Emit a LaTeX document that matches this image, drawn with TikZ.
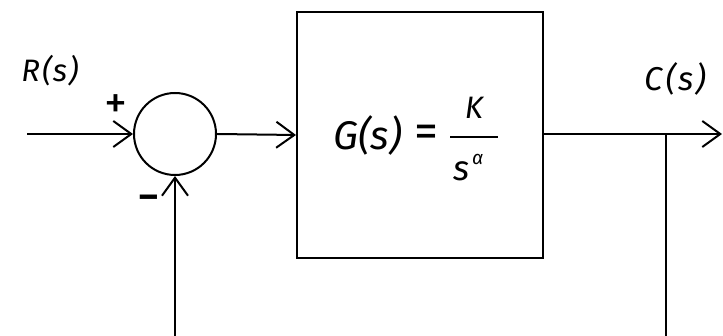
\documentclass[tikz,border=0pt]{standalone}
\usepackage{fontspec}
\setmainfont{Fira Sans}
\usetikzlibrary{arrows.meta}
\newcommand{\fsz}[1]{\fontsize{#1}{#1}\selectfont}
\begin{document}
\begin{tikzpicture}[x=1pt,y=-1pt,
  wire/.style={line width=2pt},
  arr/.style={wire,-{Straight Barb[length=18pt,width=26pt,line width=2pt]}},
  txt/.style={inner sep=0pt,outer sep=0pt}]
\useasboundingbox (0,0) rectangle (723,336);
\node[draw,line width=2pt,circle,minimum size=82pt,inner sep=0pt] (sum) at (175,134) {};
\node[draw,line width=2pt,minimum width=246pt,minimum height=246pt,inner sep=0pt] (G) at (420,135) {};
\coordinate (in) at (27,134);
\coordinate (out) at (722,134);
\coordinate (br) at (666,134);
\coordinate (brb) at (666,336);
\coordinate (fbb) at (175,336);
\draw[arr] (in) -- (sum.west);
\draw[arr] (sum.east) -- (G.west);
\draw[arr] (G.east |- br) -- (out);
\draw[wire] (br) -- (brb);
\draw[arr] (fbb) -- (sum.south);
\node[txt] (R) at (50,71) {\fsz{31}\itshape R\kern2pt(\kern1pt s\kern1.5pt)};
\node[txt] (C) at (675,79) {\fsz{33}\itshape C\kern3pt(\kern2pt s\kern2pt)};
\node[txt] (plus) at (116,107) {\fsz{46}+};
\node[txt] (minus) at (149,201.5) {\fsz{36}\bfseries \textendash};
% transfer function
\node[txt,anchor=base west] (Gs) at (333,150) {\fsz{40}\itshape G(s)};
\node[txt] (eq) at (426,136) {\fsz{48}=};
\coordinate (fa) at (450,137);
\coordinate (fb) at (498,137);
\draw[line width=2pt] (fa) -- (fb);
\node[txt,anchor=base] (K) at (474,119) {\fsz{31}\itshape K};
\node[txt,anchor=base] (s) at (462,181) {\fsz{35}\itshape s};
\node[txt,anchor=base west] (al) at (472,165) {\fsz{19}\itshape α};
\end{tikzpicture}
\end{document}
